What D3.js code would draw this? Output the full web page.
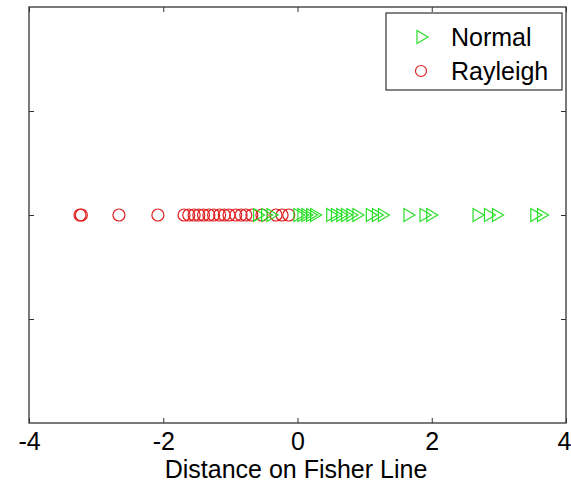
<!DOCTYPE html>
<html><head><meta charset="utf-8">
<script src="https://cdn.jsdelivr.net/npm/d3@7"></script>
<style>body{margin:0;background:#fff}svg{display:block}text{font-family:"Liberation Sans",Arial,sans-serif}</style>
</head><body><svg id="c" width="571" height="487"></svg>
<script>
const rayleigh = [-3.24,-3.22,-2.66,-2.08,-1.69,-1.62,-1.54,-1.47,-1.40,-1.32,-1.25,-1.16,-1.09,-1.02,-0.92,-0.84,-0.77,-0.68,-0.53,-0.32,-0.23,-0.13];
const normal = [-0.58,-0.46,-0.38,0.02,0.08,0.14,0.21,0.27,0.51,0.58,0.66,0.73,0.81,0.90,1.10,1.19,1.28,1.66,1.90,2.00,2.69,2.86,2.98,3.55,3.65];
const xTicks = [-4,-2,0,2,4];
const yTicks = [-0.5,0,0.5];
const seriesNames = ["Normal","Rayleigh"];

const svg = d3.select("#c");
const L=29,R=566,T=7,B=423;
const x = d3.scaleLinear().domain([-4,4]).range([L,R]);
const y = d3.scaleLinear().domain([-1,1]).range([B,T]);
const axisCol="#333";

const g = svg.append("g");
g.append("g").attr("transform",`translate(0,${B})`).call(d3.axisBottom(x).tickValues(xTicks).tickSize(-5).tickPadding(9).tickFormat(d=>String(d)))
 .call(a=>{a.select(".domain").remove();a.selectAll("line").attr("stroke",axisCol);
   a.selectAll("text").attr("font-size",25).attr("fill","#000").attr("dx",d=>d===4?-2:0);});
g.append("g").attr("transform",`translate(0,${T})`).call(d3.axisTop(x).tickValues(xTicks).tickSize(-5).tickFormat(""))
 .call(a=>{a.select(".domain").remove();a.selectAll("line").attr("stroke",axisCol);});
g.append("g").attr("transform",`translate(${L},0)`).call(d3.axisLeft(y).tickValues(yTicks).tickSize(-5).tickFormat(""))
 .call(a=>{a.select(".domain").remove();a.selectAll("line").attr("stroke",axisCol);});
g.append("g").attr("transform",`translate(${R},0)`).call(d3.axisRight(y).tickValues(yTicks).tickSize(-5).tickFormat(""))
 .call(a=>{a.select(".domain").remove();a.selectAll("line").attr("stroke",axisCol);});
svg.append("rect").attr("x",L).attr("y",T).attr("width",R-L).attr("height",B-T).attr("fill","none").attr("stroke",axisCol).attr("stroke-width",1.3);

svg.append("text").attr("x",296).attr("y",478).attr("text-anchor","middle").attr("font-size",25).text("Distance on Fisher Line");

const tri = (cx,cy)=>`M${cx-5},${cy-6.5}L${cx+6},${cy}L${cx-5},${cy+6.5}Z`;
const cy0 = y(0);
svg.append("g").selectAll("circle").data(rayleigh).join("circle")
 .attr("cx",d=>x(d)).attr("cy",cy0).attr("r",6).attr("fill","none").attr("stroke","#e02020").attr("stroke-width",1.2);
svg.append("g").selectAll("path").data(normal).join("path")
 .attr("d",d=>tri(x(d),cy0)).attr("fill","none").attr("stroke","#2ade2a").attr("stroke-width",1.2);

const lg = svg.append("g");
lg.append("rect").attr("x",386).attr("y",13).attr("width",176).attr("height",77).attr("fill","#fff").attr("stroke",axisCol).attr("stroke-width",1.2);
lg.append("path").attr("d",tri(422,37)).attr("fill","none").attr("stroke","#2ade2a").attr("stroke-width",1.2);
lg.append("circle").attr("cx",421).attr("cy",71).attr("r",5.5).attr("fill","none").attr("stroke","#e02020").attr("stroke-width",1.2);
lg.selectAll("text.l").data(seriesNames).join("text").attr("class","l").attr("x",451).attr("y",(d,i)=>46+i*34).attr("font-size",25).text(d=>d);
</script></body></html>
